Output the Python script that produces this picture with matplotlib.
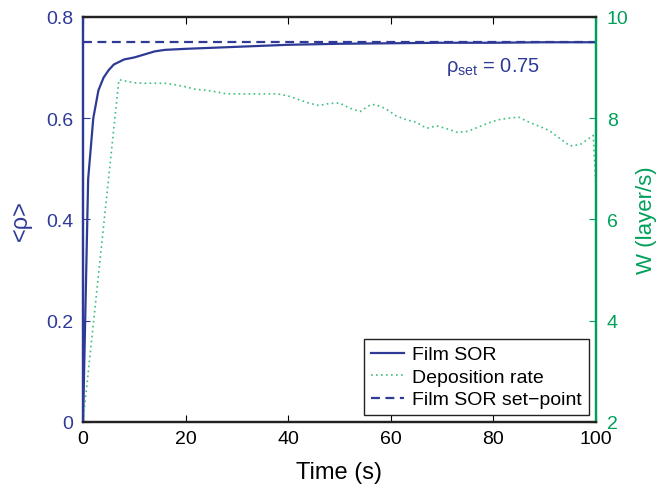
import matplotlib
matplotlib.use("Agg")
import matplotlib.pyplot as plt

# Film SOR <rho> vs time
t_sor = [0, 1, 2, 3, 4, 5, 6, 8, 10, 12, 14, 16, 18, 20, 25, 30, 35, 40, 50, 60, 70, 80, 90, 100]
rho = [0, 0.48, 0.60, 0.655, 0.68, 0.695, 0.706, 0.716, 0.72, 0.726, 0.732, 0.735, 0.736,
       0.737, 0.739, 0.741, 0.743, 0.745, 0.747, 0.748, 0.749, 0.749, 0.75, 0.75]

# deposition rate W (layer/s)
t_w = [0, 7, 8, 10, 12, 14, 16, 18, 20, 22, 24, 26, 28, 30, 32, 34, 36, 38, 40, 42, 44,
       46, 48, 50, 52, 54, 56, 57, 59, 61, 63, 65, 67, 69, 71, 73, 75, 77, 79, 81, 83,
       85, 87, 89, 91, 93, 95, 97, 99.5, 100]
w = [2.0, 8.76, 8.74, 8.70, 8.69, 8.69, 8.69, 8.66, 8.62, 8.57, 8.55, 8.52, 8.48, 8.48,
     8.48, 8.48, 8.48, 8.48, 8.44, 8.37, 8.30, 8.25, 8.29, 8.30, 8.20, 8.13, 8.26, 8.27,
     8.19, 8.05, 7.97, 7.92, 7.80, 7.85, 7.79, 7.72, 7.74, 7.82, 7.90, 7.97, 8.00, 8.02,
     7.92, 7.84, 7.75, 7.60, 7.45, 7.48, 7.66, 6.75]

rho_set = 0.75
x_ticks = [0, 20, 40, 60, 80, 100]
rho_ticks = [0, 0.2, 0.4, 0.6, 0.8]
rho_ticklabels = ["0", "0.2", "0.4", "0.6", "0.8"]
w_ticks = [2, 4, 6, 8, 10]

BLUE = "#2E3A96"
GREEN = "#00A05A"
GREEN_DOT = "#3DBF7E"

plt.rcParams["font.family"] = ["Liberation Sans", "DejaVu Sans"]
plt.rcParams["mathtext.fontset"] = "custom"
plt.rcParams["mathtext.rm"] = "Liberation Sans"
plt.rcParams["mathtext.it"] = "Liberation Sans:italic"

fig = plt.figure(figsize=(6.59, 4.85), dpi=100)
ax = fig.add_axes([0.126, 0.128, 0.778, 0.835])
ax2 = ax.twinx()

l1, = ax.plot(t_sor, rho, color=BLUE, lw=1.6, label="Film SOR")
l3, = ax.plot([0, 100], [rho_set, rho_set], color=BLUE, lw=1.6, dashes=(4, 2.5),
              label="Film SOR set\u2212point")
l2, = ax2.plot(t_w, w, color=GREEN_DOT, lw=1.2, linestyle=(0, (1, 2)), label="Deposition rate")

ax.set_xlim(0, 100)
ax.set_ylim(0, 0.8)
ax2.set_ylim(2, 10)
ax.set_xticks(x_ticks)
ax.set_yticks(rho_ticks)
ax.set_yticklabels(rho_ticklabels)
ax2.set_yticks(w_ticks)

ax.tick_params(axis="x", direction="in", top=True, labelsize=14, length=5, pad=6, colors="black")
ax.tick_params(axis="y", direction="in", labelsize=14, length=5, pad=7, colors=BLUE)
ax2.tick_params(axis="y", direction="in", labelsize=14, length=5, pad=8, colors=GREEN)

for a in (ax, ax2):
    a.spines["left"].set_color(BLUE)
    a.spines["right"].set_color(GREEN)
    a.spines["top"].set_color("#222222")
    a.spines["bottom"].set_color("#222222")
    for s in a.spines.values():
        s.set_linewidth(1.6)

ax.set_xlabel("Time (s)", fontsize=17, labelpad=10)
ax.set_ylabel("<\u03c1>", fontsize=17, color=BLUE, labelpad=10)
ax2.set_ylabel("W (layer/s)", fontsize=16, color=GREEN, labelpad=5)

ax.text(80, 0.703, "$\\mathrm{\u03c1}_{\\mathrm{set}}$ = 0.75", color=BLUE, fontsize=14.5,
        ha="center", va="center")

ax2.legend([l1, l2, l3], ["Film SOR", "Deposition rate", "Film SOR set\u2212point"],
           loc="lower right", fontsize=14, frameon=True, fancybox=False, edgecolor="#222222",
           framealpha=1, borderaxespad=0.35, handlelength=1.7, borderpad=0.35, labelspacing=0.25,
           handletextpad=0.45)

fig.savefig("out.png", dpi=100)
